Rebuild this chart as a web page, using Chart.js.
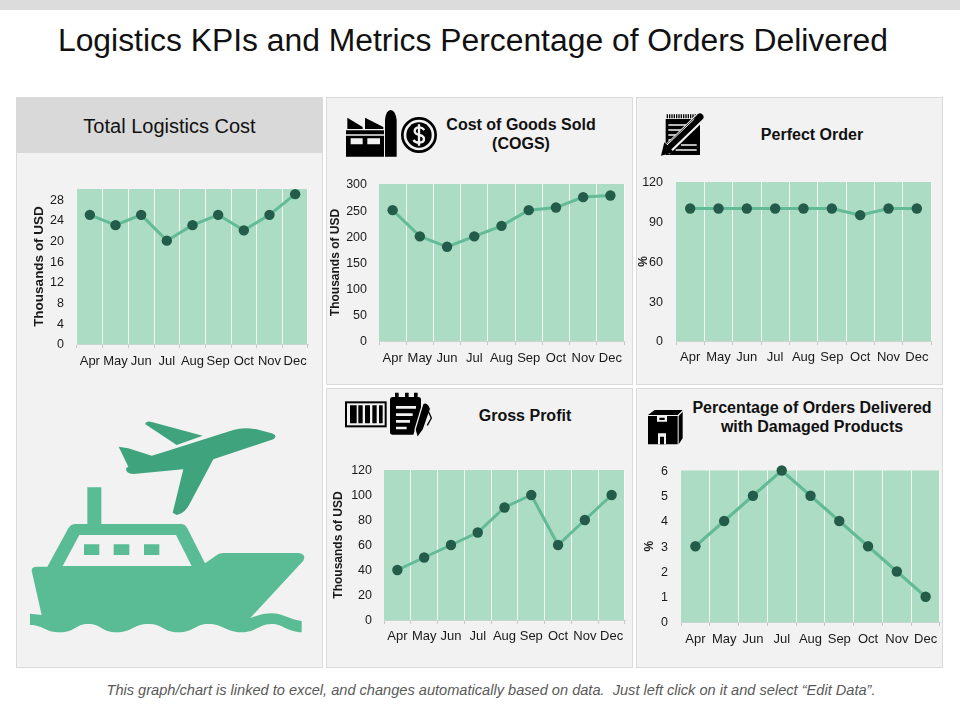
<!DOCTYPE html>
<html>
<head>
<meta charset="utf-8">
<script src="https://cdn.jsdelivr.net/npm/chart.js@4"></script>
<style>
html,body{margin:0;padding:0;background:#fff;}
body{width:960px;height:720px;position:relative;overflow:hidden;font-family:"Liberation Sans",Arial,sans-serif;color:#111;}
.abs{position:absolute;}
#strip{left:0;top:0;width:960px;height:10px;background:#DCDCDC;}
#title{left:0;top:21px;width:946px;text-align:center;font-size:31.85px;line-height:38px;white-space:nowrap;}
.panel{position:absolute;box-sizing:border-box;background:#F2F2F2;border:1px solid #DADADA;}
#banner{left:17px;top:98px;width:305px;height:55px;background:#D9D9D9;text-align:center;font-size:20px;line-height:56px;}
.ptitle{position:absolute;text-align:center;font-weight:bold;font-size:16px;line-height:19px;white-space:nowrap;}
#foot{left:0;top:682px;width:982px;text-align:center;font-style:italic;font-size:14.6px;line-height:17px;color:#595959;white-space:nowrap;}
canvas{position:absolute;display:block;}
svg{position:absolute;overflow:visible;}
</style>
</head>
<body>
<div class="abs" id="strip"></div>
<div class="abs" id="title">Logistics KPIs and Metrics Percentage of Orders Delivered</div>

<div class="panel" style="left:16px;top:97px;width:307px;height:571px"></div>
<div class="panel" style="left:326px;top:97px;width:307px;height:288px"></div>
<div class="panel" style="left:636px;top:97px;width:307px;height:288px"></div>
<div class="panel" style="left:326px;top:388px;width:307px;height:280px"></div>
<div class="panel" style="left:636px;top:388px;width:307px;height:280px"></div>

<div class="abs" id="banner">Total Logistics Cost</div>
<div class="ptitle" style="left:446px;top:115px;width:150px">Cost of Goods Sold<br>(COGS)</div>
<div class="ptitle" style="left:712px;top:125px;width:200px">Perfect Order</div>
<div class="ptitle" style="left:425px;top:406px;width:200px">Gross Profit</div>
<div class="ptitle" style="left:672px;top:398px;width:280px">Percentage of Orders Delivered<br>with Damaged Products</div>

<!-- ship and plane -->
<svg style="left:0;top:400px" width="330" height="280" viewBox="0 0 990 840">
  <path fill="#5ABC94" d="M95 512Q95 500 110 500L142 500L205 385Q212 372 228 372L262 372L262 262L304 262L304 372L542 372Q556 372 562 385L615 490L652 464Q658 459 670 459L895 459Q920 462 910 482L750 655Q785 640 815 640C850 640 870 660 905 663L905 697C860 695 850 672 815 672C775 672 770 697 725 697C680 697 670 672 625 672C585 672 580 697 535 697C490 697 490 672 445 672C400 672 395 697 350 697C305 697 305 672 265 672C225 672 225 697 180 697C135 697 130 675 90 675L90 641L125 645Z"/>
  <path fill="#F2F2F2" d="M188 498L238 405L528 405L575 498Z"/>
  <path fill="#5ABC94" d="M252 433H298V465H252ZM341 433H388V465H341ZM432 433H478V465H432Z"/>
  <path fill="#3FA47E" d="M356 140L385 145L455 167L480 160L700 90Q730 80 770 88L815 100Q835 108 820 118L640 178L570 310Q555 340 530 345L518 338L550 208L400 222Q378 222 378 205L385 200Z"/>
  <path fill="#3FA47E" d="M435 72Q440 62 455 66L608 107L530 135Z"/>
</svg>

<!-- factory + dollar -->
<svg style="left:340px;top:105px" width="100" height="55" viewBox="0 0 300 165">
  <path fill="#000" d="M22 38L68 66V72H22ZM75 38L130 66V72H75ZM18 76H132V88H18ZM18 92H132V155H18ZM135 155V45Q138 15 152 15Q166 15 170 45V155Z"/>
  <path fill="#F2F2F2" d="M32 100H68V118H32ZM82 100H120V118H82Z"/>
  <circle cx="237" cy="90" r="50" fill="none" stroke="#000" stroke-width="8"/>
  <circle cx="237" cy="90" r="38" fill="#000"/>
  <path fill="none" stroke="#F2F2F2" stroke-width="7" d="M253 75Q246 66 236 67Q224 69 224 78Q224 87 238 90Q252 93 252 102Q252 112 239 113Q227 114 220 105M237 58V122"/>
</svg>

<!-- notepad -->
<svg style="left:655px;top:105px" width="55" height="55" viewBox="0 0 165 165">
  <path fill="#000" d="M32 42H135V150H32Z"/>
  <path stroke="#000" stroke-width="12" stroke-dasharray="4 3" d="M35 34H128"/>
  <path stroke="#F2F2F2" stroke-width="4" d="M40 60H115M40 75H100M40 90H85M40 105H70M78 120H125M62 135H125"/>
  <path fill="none" stroke="#F2F2F2" stroke-width="30" d="M32 138L135 38"/>
  <path fill="none" stroke="#000" stroke-width="21" stroke-linecap="round" d="M42 125L135 36"/>
  <path fill="#000" d="M18 152L28 112L57 142Z"/>
  <path fill="none" stroke="#F2F2F2" stroke-width="3" d="M36 120L118 42"/>
</svg>

<!-- barcode + clipboard -->
<svg style="left:340px;top:388px" width="95" height="55" viewBox="0 0 285 165">
  <rect x="18" y="43" width="119" height="72" fill="none" stroke="#000" stroke-width="6"/>
  <path fill="#000" d="M30 52H50V106H30ZM55 52H68V106H55ZM75 52H90V106H75ZM97 52H110V106H97ZM117 52H128V106H117Z"/>
  <path fill="#000" d="M150 35Q150 27 158 27H165V14H176V27H195V14H206V27H222V14H233V27H235Q243 27 243 35V75L220 140H158Q150 140 150 132Z"/>
  <path stroke="#F2F2F2" stroke-width="8" d="M168 58H228M168 80H218M168 100H210M168 120H200"/>
  <path fill="#000" stroke="#F2F2F2" stroke-width="4" d="M232 150L225 125L248 48Q256 40 266 50L272 62L250 125Z"/>
  <path fill="none" stroke="#000" stroke-width="4" d="M265 70L274 90L262 112"/>
</svg>

<!-- box -->
<svg style="left:642px;top:405px" width="45" height="45" viewBox="0 0 135 135">
  <path fill="#000" d="M18 30L38 15H122L107 30ZM110 33L122 20V100L110 118ZM18 33H107V118H18Z"/>
  <path fill="#F2F2F2" d="M45 33H75V50H45ZM48 85H72V118H48Z"/>
  <path fill="#000" d="M52 38H68V45H52ZM54 95H66V118H54Z"/>
</svg>

<canvas id="c1" style="left:16px;top:153px" width="307" height="230"></canvas>
<canvas id="c2" style="left:326px;top:160px" width="307" height="225"></canvas>
<canvas id="c3" style="left:636px;top:160px" width="307" height="225"></canvas>
<canvas id="c4" style="left:326px;top:450px" width="307" height="218"></canvas>
<canvas id="c5" style="left:636px;top:450px" width="307" height="218"></canvas>

<div class="abs" id="foot">This graph/chart is linked to excel, and changes automatically based on data.&nbsp; Just left click on it and select “Edit Data”.</div>

<script>
const months = ["Apr","May","Jun","Jul","Aug","Sep","Oct","Nov","Dec"];
const totalLogisticsCost = [25,23,25,20,23,25,22,25,29];
const costOfGoodsSold = [250,200,180,200,220,250,255,275,278];
const perfectOrder = [100,100,100,100,100,100,95,100,100];
const grossProfit = [40,50,60,70,90,100,60,80,100];
const damagedOrders = [3,4,5,6,5,4,3,2,1];

const PLOT_FILL = "#ADDCC5", LINE = "#62BA96", DOT = "#235C49", INK = "#1A1A1A";

const plotFill = {
  id: "plotFill",
  beforeDraw(chart) {
    const a = chart.chartArea, c = chart.ctx;
    c.save(); c.fillStyle = PLOT_FILL;
    c.fillRect(a.left, a.top, a.right - a.left, a.bottom - a.top);
    c.restore();
  }
};

function draw(id, values, yTitle, yMax, yStep, box) {
  const cv = document.getElementById(id);
  new Chart(cv, {
    type: "line",
    plugins: [plotFill],
    data: { labels: months, datasets: [{
      data: values, borderColor: LINE, borderWidth: 3, tension: 0, clip: false,
      pointRadius: 5.2, pointBackgroundColor: DOT, pointBorderColor: DOT, pointBorderWidth: 0
    }]},
    options: {
      responsive: false, animation: false, devicePixelRatio: 1,
      layout: { autoPadding: false, padding: { left: 0, top: box.top, right: box.right, bottom: 0 } },
      plugins: { legend: { display: false }, tooltip: { enabled: false }, title: { display: false } },
      scales: {
        x: {
          type: "category", offset: true,
          afterFit(s) { s.height = box.bottom; s.paddingLeft = 0; s.paddingRight = 0; },
          border: { display: true, color: "#C9D6CF", width: 1 },
          grid: {
            offset: true, drawTicks: true, tickLength: 4, tickColor: "#C8C8C8", lineWidth: 1,
            color: c => (c.index === 0 || c.index === months.length) ? "rgba(0,0,0,0)" : "#F4F8F6"
          },
          ticks: { autoSkip: false, maxRotation: 0, minRotation: 0, padding: box.xPad, color: INK,
            font: { family: "Liberation Sans", size: 13 } }
        },
        y: {
          min: 0, max: yMax,
          afterFit(s) { s.width = box.left; },
          border: { display: false },
          grid: { display: false, drawTicks: false },
          title: { display: true, text: yTitle, color: INK, padding: { top: box.titlePad, bottom: 0 },
            font: { family: "Liberation Sans", size: box.titleSize, weight: "bold" } },
          ticks: { stepSize: yStep, includeBounds: false, padding: box.yPad, labelOffset: 1, color: INK,
            font: { family: "Liberation Sans", size: 12.5 } }
        }
      }
    }
  });
}

draw("c1", totalLogisticsCost, "Thousands of USD", 30, 4, {left:61, top:36, right:15, bottom:39, titlePad:15, titleSize:13.5, xPad:6, yPad:13});
draw("c2", costOfGoodsSold, "Thousands of USD", 300, 50, {left:53, top:24, right:9, bottom:44, titlePad:2, titleSize:12, xPad:6, yPad:12});
draw("c3", perfectOrder, "%", 120, 30, {left:40, top:22, right:12, bottom:44, titlePad:0, titleSize:12, xPad:5, yPad:13});
draw("c4", grossProfit, "Thousands of USD", 120, 20, {left:58, top:20, right:8, bottom:48, titlePad:5, titleSize:12, xPad:5, yPad:12});
draw("c5", damagedOrders, "%", 6, 1, {left:45, top:19, right:3, bottom:46, titlePad:6, titleSize:12, xPad:6, yPad:13});
</script>
</body>
</html>
